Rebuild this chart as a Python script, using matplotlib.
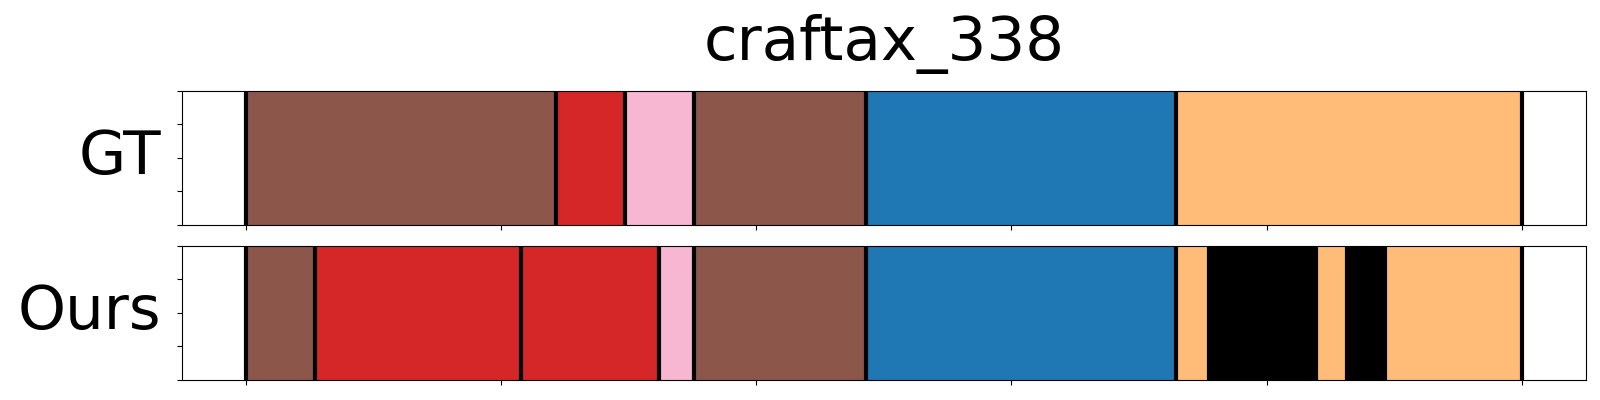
import matplotlib
matplotlib.use("Agg")
import matplotlib.pyplot as plt

# segment data, frame units (sequence length 1000)
seq_len = 1000
title = "craftax_338"
row_names = ["GT", "Ours"]

gt_starts = [0, 243, 297, 351, 486, 729]
gt_ends = [243, 297, 351, 486, 729, 1000]
gt_colors = ["#8c564b", "#d62728", "#f7b6d2", "#8c564b", "#1f77b4", "#ffbb78"]

ours_starts = [0, 54, 216, 324, 351, 486, 729, 755, 839, 863, 893]
ours_ends = [54, 216, 324, 351, 486, 729, 755, 839, 863, 893, 1000]
ours_colors = ["#8c564b", "#d62728", "#d62728", "#f7b6d2", "#8c564b", "#1f77b4",
               "#ffbb78", "#000000", "#ffbb78", "#000000", "#ffbb78"]

rows = [(gt_starts, gt_ends, gt_colors), (ours_starts, ours_ends, ours_colors)]

fig, axes = plt.subplots(2, 1, figsize=(16, 4), dpi=100)
fig.subplots_adjust(left=0.1136, right=0.9911, top=0.7733, bottom=0.05, hspace=0.154)

for ax, name, (starts, ends, colors) in zip(axes, row_names, rows):
    for s, e, c in zip(starts, ends, colors):
        ax.axvspan(s, e, ymin=0, ymax=1, facecolor=c, edgecolor=c, linewidth=0.8)
    # segment boundaries
    for s in starts:
        ax.axvline(s, color="black", linewidth=3)
    ax.axvline(ends[-1], color="black", linewidth=3)

    ax.set_xlim(-0.05 * seq_len, 1.05 * seq_len)
    ax.set_ylim(0, 1)
    ax.set_xticks(range(0, seq_len + 1, 200))
    ax.set_yticks([0, 0.25, 0.5, 0.75, 1.0])
    ax.set_xticklabels([])
    ax.set_yticklabels([])
    ax.set_ylabel(name, rotation=0, ha="right", va="center", fontsize=44, labelpad=8)

axes[0].set_title(title, fontsize=44, pad=22)

fig.savefig("out.png")
